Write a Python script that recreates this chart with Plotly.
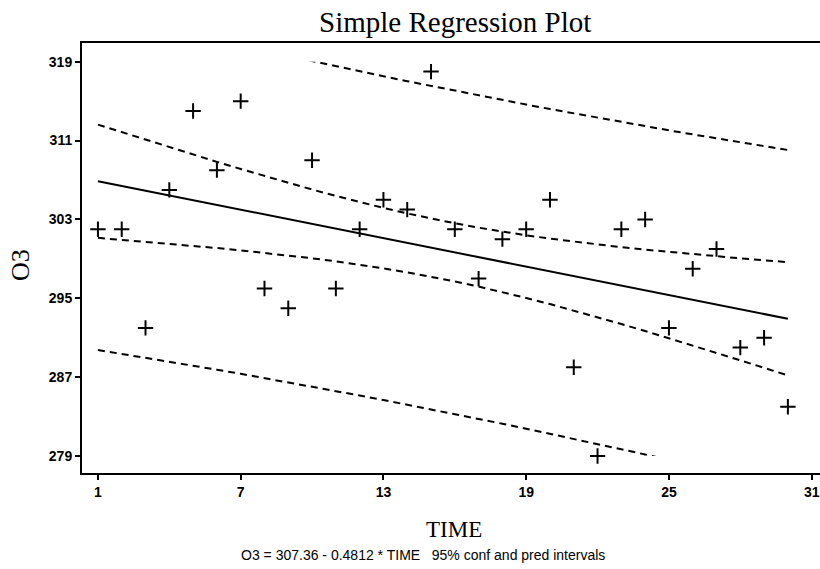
import numpy as np
import plotly.graph_objects as go

# ---- data ----
time = list(range(1, 31))
o3 = [302, 302, 292, 306, 314, 308, 315, 296, 294, 309,
      296, 302, 305, 304, 318, 302, 297, 301, 302, 305,
      288, 279, 302, 303, 292, 298, 300, 290, 291, 284]
x_ticks = [1, 7, 13, 19, 25, 31]
y_ticks = [279, 287, 295, 303, 311, 319]
title_text = "Simple Regression Plot"
x_title = "TIME"
y_title = "O3"
footnote = "O3 = 307.36 - 0.4812 * TIME   95% conf and pred intervals"
T_CRIT = 2.0484  # t(0.975, 28)

# ---- regression and intervals computed from the data ----
t_arr = np.array(time, dtype=float)
y_arr = np.array(o3, dtype=float)
n = len(t_arr)
slope, intercept = np.polyfit(t_arr, y_arr, 1)
fit = intercept + slope * t_arr
s = np.sqrt(np.sum((y_arr - fit) ** 2) / (n - 2))
sxx = np.sum((t_arr - t_arr.mean()) ** 2)
lev = 1.0 / n + (t_arr - t_arr.mean()) ** 2 / sxx
conf = T_CRIT * s * np.sqrt(lev)
pred = T_CRIT * s * np.sqrt(1 + lev)

# ---- layout geometry ----
W, H = 820, 569
ML, MR, MT, MB = 82, 0, 43, 96
XR = [0.33, 31.35]
YR = [277.28, 320.9]
CLIP = [279, 319]  # prediction bands are drawn only inside the labelled range
d0 = (CLIP[0] - YR[0]) / (YR[1] - YR[0])
d1 = (CLIP[1] - YR[0]) / (YR[1] - YR[0])

pw = W - ML - MR
ph = H - MT - MB


def px(x):
    return (x - ML) / pw


def py(y):
    return (H - MB - y) / ph


fig = go.Figure()
dash = "7px,5px"

fig.add_trace(go.Scatter(x=time, y=fit + pred, mode="lines", xaxis="x2", yaxis="y2",
                         line=dict(color="black", width=2, dash=dash), showlegend=False))
fig.add_trace(go.Scatter(x=time, y=fit - pred, mode="lines", xaxis="x2", yaxis="y2",
                         line=dict(color="black", width=2, dash=dash), showlegend=False))
fig.add_trace(go.Scatter(x=time, y=fit + conf, mode="lines",
                         line=dict(color="black", width=2, dash=dash), showlegend=False))
fig.add_trace(go.Scatter(x=time, y=fit - conf, mode="lines",
                         line=dict(color="black", width=2, dash=dash), showlegend=False))
fig.add_trace(go.Scatter(x=time, y=fit, mode="lines",
                         line=dict(color="black", width=2), showlegend=False))
fig.add_trace(go.Scatter(x=time, y=o3, mode="markers",
                         marker=dict(symbol="cross-thin", size=11,
                                     line=dict(color="black", width=2)),
                         showlegend=False))

tickfont = dict(family="Liberation Sans, Arial", size=14, color="black", weight="bold")

fig.update_layout(
    width=W, height=H,
    margin=dict(l=ML, r=MR, t=MT, b=MB, autoexpand=False),
    paper_bgcolor="white", plot_bgcolor="rgba(0,0,0,0)",
    xaxis=dict(range=XR, domain=[0, 1], tickvals=x_ticks, ticks="outside", ticklen=5,
               tickwidth=1.5, tickcolor="black", showline=True, linewidth=2,
               linecolor="black", mirror=True, showgrid=False, zeroline=False,
               tickfont=tickfont, automargin=False),
    yaxis=dict(range=YR, domain=[0, 1], tickvals=y_ticks, ticks="outside", ticklen=5,
               tickwidth=1.5, tickcolor="black", showline=True, linewidth=2,
               linecolor="black", showgrid=False, zeroline=False,
               tickfont=tickfont, automargin=False),
    xaxis2=dict(range=XR, domain=[0, 1], anchor="y2", visible=False),
    yaxis2=dict(range=CLIP, domain=[d0, d1], anchor="x2", visible=False),
)

fig.add_annotation(text=title_text, xref="paper", yref="paper", x=px(455), y=py(22),
                   showarrow=False, xanchor="center", yanchor="middle",
                   font=dict(family="Liberation Serif, Times New Roman", size=29, color="black"))
fig.add_annotation(text=y_title, xref="paper", yref="paper", x=px(20), y=py(265),
                   showarrow=False, xanchor="center", yanchor="middle", textangle=-90,
                   font=dict(family="Liberation Serif, Times New Roman", size=26, color="black"))
fig.add_annotation(text=x_title, xref="paper", yref="paper", x=px(454), y=py(529),
                   showarrow=False, xanchor="center", yanchor="middle",
                   font=dict(family="Liberation Serif, Times New Roman", size=23, color="black"))
fig.add_annotation(text=footnote, xref="paper", yref="paper", x=px(423), y=py(555),
                   showarrow=False, xanchor="center", yanchor="middle",
                   font=dict(family="Liberation Sans, Arial", size=14, color="black"))

fig.write_html("out.html", config={"displayModeBar": False},
               post_script="document.body.style.margin='0px';document.body.style.overflow='hidden';")
